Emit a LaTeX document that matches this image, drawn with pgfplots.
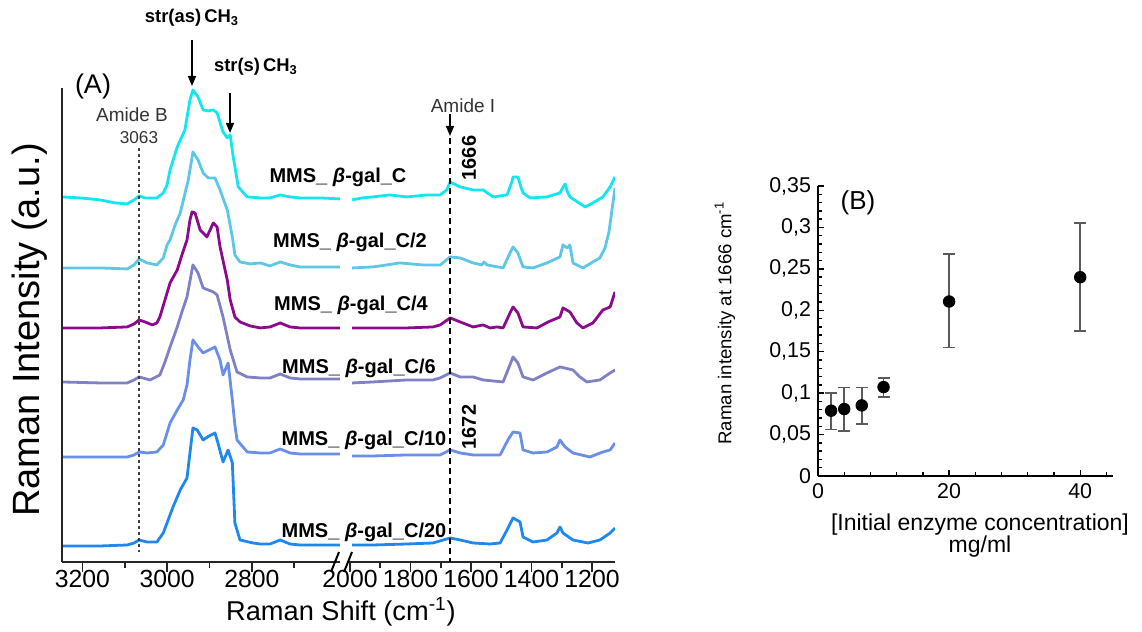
\documentclass[border=0pt]{standalone}
\usepackage{pgfplots}
\pgfplotsset{compat=1.18}
\usepackage{fontspec}
\setmainfont{Liberation Sans}
\usetikzlibrary{arrows.meta}

\definecolor{cC}{RGB}{20,230,240}
\definecolor{cCii}{RGB}{92,200,230}
\definecolor{cCiv}{RGB}{140,10,140}
\definecolor{cCvi}{RGB}{128,128,196}
\definecolor{cCx}{RGB}{106,143,232}
\definecolor{cCxx}{RGB}{30,136,240}
\definecolor{ebar}{RGB}{90,90,90}

\newcommand{\fs}[1]{\fontsize{#1}{#1}\selectfont}
\newcommand{\lab}[1]{\bfseries MMS\_ {\itshape β}-gal\_C#1}

\pgfplotsset{
  spec/.style={scale only axis, height=237pt, ymin=0, ymax=474, x dir=reverse,
    axis x line*=bottom, ytick=\empty, tick align=outside,
    major tick length=5pt, minor tick length=3pt,
    axis line style={line width=1pt, black!85}, tick style={line width=0.8pt, black!85},
    xticklabel style={font=\fs{12.4}, yshift=4.5pt, /pgf/number format/1000 sep={}},
    /pgf/number format/assume math mode=true},
  sp/.style={line width=1.4pt, line join=round, mark=none}
}

\begin{document}
\begin{tikzpicture}
\path[use as bounding box] (0,0) rectangle (571pt,316pt);

% ---- (A) high wavenumber part
\begin{axis}[spec, at={(31pt,35pt)}, anchor=south west, width=139pt,
  xmin=2592, xmax=3248, axis y line=none,
  xtick={2800,3000,3200}, minor xtick={2700,2900,3100}]
\addplot[sp, cC] coordinates {(3248,365)(3205,364)(3158,362)(3123,359)(3094,358)(3078,362)(3066,366)(3052,364)(3024,364)(3009,369)(3000,377)(2993,392)(2976,415)(2958,432)(2946,462)(2939,472)(2927,465)(2915,452)(2903,451)(2891,452)(2882,449)(2868,430)(2858,424)(2851,427)(2844,405)(2832,375)(2811,365)(2780,364)(2757,364)(2733,367)(2710,365)(2686,364)(2639,364)(2592,363)};
\addplot[sp, cCii] coordinates {(3248,294)(3158,294)(3094,293)(3078,297)(3066,303)(3047,299)(3024,297)(3009,304)(3000,317)(2993,322)(2981,337)(2969,349)(2950,382)(2939,410)(2927,402)(2915,389)(2903,384)(2887,384)(2875,372)(2858,352)(2846,325)(2840,307)(2828,300)(2804,298)(2780,299)(2757,296)(2733,300)(2710,297)(2686,295)(2639,295)(2592,295)};
\addplot[sp, cCiv] coordinates {(3248,234)(3158,234)(3094,235)(3078,238)(3066,242)(3052,240)(3035,237)(3024,239)(3017,245)(3005,262)(2993,279)(2976,292)(2965,307)(2953,322)(2946,342)(2941,350)(2934,349)(2922,332)(2906,325)(2891,339)(2882,335)(2875,315)(2858,282)(2851,262)(2840,245)(2828,240)(2804,236)(2780,234)(2757,235)(2733,239)(2710,235)(2686,234)(2639,234)(2592,234)};
\addplot[sp, cCvi] coordinates {(3248,180)(3158,179)(3094,179)(3078,182)(3066,185)(3040,182)(3017,187)(3005,200)(2993,215)(2976,235)(2965,250)(2953,265)(2939,297)(2927,289)(2915,274)(2891,270)(2882,267)(2868,245)(2851,212)(2835,190)(2811,185)(2780,184)(2757,184)(2733,188)(2710,184)(2686,183)(2639,183)(2592,183)};
\addplot[sp, cCx] coordinates {(3248,105)(3158,105)(3094,105)(3078,107)(3066,110)(3047,109)(3024,110)(3009,117)(2993,139)(2976,152)(2962,162)(2953,177)(2946,202)(2939,222)(2927,215)(2915,209)(2901,212)(2887,215)(2875,202)(2868,187)(2856,199)(2846,162)(2840,137)(2835,122)(2811,110)(2780,109)(2757,109)(2733,113)(2710,109)(2686,108)(2639,108)(2592,108)};
\addplot[sp, cCxx] coordinates {(3248,16)(3158,16)(3094,17)(3078,19)(3066,22)(3047,20)(3024,20)(3009,29)(2986,55)(2969,72)(2953,84)(2950,95)(2939,134)(2929,132)(2915,122)(2901,126)(2887,129)(2880,119)(2868,100)(2856,112)(2846,99)(2840,39)(2828,22)(2797,19)(2780,18)(2757,18)(2733,22)(2710,18)(2686,17)(2639,17)(2592,17)};
\end{axis}

% ---- (A) fingerprint part
\begin{axis}[spec, at={(173.5pt,35pt)}, anchor=south west, width=134pt,
  xmin=1124, xmax=2010, axis y line=none,
  xtick={1200,1400,1600,1800,2000}, minor xtick={1300,1500,1700,1900}]
\addplot[sp, cC] coordinates {(1993,362)(1960,364)(1924,365)(1868,367)(1812,365)(1745,367)(1702,367)(1680,372)(1669,380)(1636,375)(1593,372)(1560,372)(1527,365)(1481,367)(1465,380)(1461,385)(1445,385)(1435,375)(1428,369)(1405,364)(1349,365)(1306,369)(1295,375)(1289,378)(1281,370)(1273,365)(1223,355)(1197,359)(1164,365)(1140,375)(1124,385)};
\addplot[sp, cCii] coordinates {(1993,294)(1924,295)(1835,299)(1759,297)(1702,297)(1669,305)(1636,304)(1593,299)(1564,297)(1557,300)(1547,297)(1494,294)(1471,309)(1461,315)(1445,309)(1428,295)(1395,294)(1349,299)(1306,305)(1296,317)(1282,314)(1273,317)(1263,299)(1230,294)(1197,300)(1174,304)(1157,314)(1144,330)(1134,352)(1124,374)};
\addplot[sp, cCiv] coordinates {(1993,234)(1924,234)(1812,234)(1726,235)(1702,237)(1669,244)(1636,240)(1593,235)(1560,237)(1537,234)(1514,235)(1494,234)(1471,249)(1461,255)(1445,249)(1428,235)(1382,234)(1345,240)(1306,245)(1296,254)(1273,250)(1250,239)(1230,234)(1197,239)(1164,252)(1140,255)(1124,270)};
\addplot[sp, cCvi] coordinates {(1993,179)(1924,180)(1812,182)(1726,182)(1702,184)(1669,189)(1636,185)(1593,185)(1560,182)(1494,180)(1478,192)(1461,205)(1445,199)(1428,185)(1395,182)(1349,189)(1306,195)(1263,192)(1240,185)(1217,180)(1174,182)(1140,189)(1124,192)};
\addplot[sp, cCx] coordinates {(1993,106)(1924,106)(1812,107)(1702,107)(1669,112)(1636,109)(1593,107)(1504,107)(1478,122)(1461,130)(1438,129)(1428,112)(1395,109)(1349,110)(1316,115)(1306,122)(1289,115)(1263,109)(1207,105)(1164,110)(1140,112)(1124,119)};
\addplot[sp, cCxx] coordinates {(1993,17)(1924,17)(1812,18)(1726,19)(1669,24)(1636,22)(1593,19)(1537,18)(1504,19)(1481,32)(1461,44)(1438,40)(1428,25)(1395,20)(1349,22)(1316,29)(1306,35)(1296,29)(1263,22)(1213,19)(1174,22)(1140,29)(1124,34)};
\end{axis}

% ---- (B)
\begin{axis}[at={(409pt,78pt)}, anchor=south west, scale only axis,
  width=147.5pt, height=145pt, xmin=0, xmax=45, ymin=0, ymax=0.35,
  axis x line*=bottom, axis y line*=left, tick align=inside,
  axis line style={line width=0.9pt}, tick style={line width=0.7pt, black},
  major tick length=3pt, minor tick length=2pt,
  xtick={0,20,40}, minor xtick={4,8,12,16,24,28,32,36,44},
  ytick={0,0.05,0.1,0.15,0.2,0.25,0.3,0.35}, minor y tick num=4,
  ticklabel style={font=\fs{10.7}},
  /pgf/number format/assume math mode=true,
  yticklabel style={/pgf/number format/fixed, /pgf/number format/use comma, /pgf/number format/precision=2}]
\addplot[only marks, mark=*, mark size=2.9pt, black,
  error bars/.cd, y dir=both, y explicit,
  error bar style={ebar, line width=0.8pt},
  error mark options={ebar, line width=0.8pt, mark size=3pt, rotate=90}]
  table[x=x, y=y, y error plus=ep, y error minus=em] {
  x     y      ep     em
  2     0.0788 0.0217 0.0225
  4     0.0808 0.0262 0.0266
  6.67  0.0852 0.0218 0.0225
  10    0.1073 0.0112 0.0117
  20    0.2106 0.0570 0.0555
  40    0.2399 0.0655 0.0651
  };
\end{axis}

% ---- annotations (pixel coordinates of the reference)
\begin{scope}[shift={(0pt,316pt)}, x=0.5pt, y=-0.5pt]
\draw[line width=1pt, black!85] (62,88) -- (62,562);
\draw[line width=1pt] (331,572) -- (339,552);
\draw[line width=1pt] (344,572) -- (352,552);
\node[font=\fs{13.5}] at (93,87) {(A)};
\node[font=\fs{9.2}\bfseries] at (192,18) {str(as)\,CH\textsubscript{3}};
\draw[line width=0.7pt, -{Triangle[length=5pt,width=4pt]}] (192,40) -- (192,86);
\node[font=\fs{9.2}\bfseries] at (256,67) {str(s)\,CH\textsubscript{3}};
\draw[line width=0.7pt, -{Triangle[length=5pt,width=4pt]}] (230,93) -- (230,133);
\node[font=\fs{9.5}, text=black!80] at (132,115) {Amide B};
\node[font=\fs{8.6}, text=black!80] at (139,138) {3063};
\draw[line width=0.8pt, black!75, dash pattern=on 1.5pt off 1.5pt] (139,148) -- (139,552);
\node[font=\fs{9.5}, text=black!80] at (463,106) {Amide I};
\draw[line width=0.7pt, -{Triangle[length=5pt,width=4pt]}] (450,114) -- (450,136);
\draw[line width=0.8pt, dash pattern=on 3pt off 2pt] (450,138) -- (450,562);
\node[font=\fs{10}\bfseries, rotate=90] at (469,158) {1666};
\node[font=\fs{10}\bfseries, rotate=90] at (469,427) {1672};
\node[font=\fs{10}] at (338,177) {\lab{}};
\node[font=\fs{10}] at (350,242) {\lab{/2}};
\node[font=\fs{10}] at (351,305) {\lab{/4}};
\node[font=\fs{10}] at (359,368) {\lab{/6}};
\node[font=\fs{10}] at (364,440) {\lab{/10}};
\node[font=\fs{10}] at (364,532) {\lab{/20}};
\node[font=\fs{19}, rotate=90] at (30,330) {Raman Intensity (a.u.)};
\node[font=\fs{13.6}] at (341,612) {Raman Shift (cm\textsuperscript{-1})};
\node[font=\fs{13}] at (858,203) {(B)};
\node[font=\fs{9.3}, rotate=90] at (725,323) {Raman intensity at 1666 cm\textsuperscript{-1}};
\node[font=\fs{11.5}] at (980,525) {[Initial enzyme concentration]};
\node[font=\fs{11.5}] at (980,547) {mg/ml};
\end{scope}
\end{tikzpicture}
\end{document}
